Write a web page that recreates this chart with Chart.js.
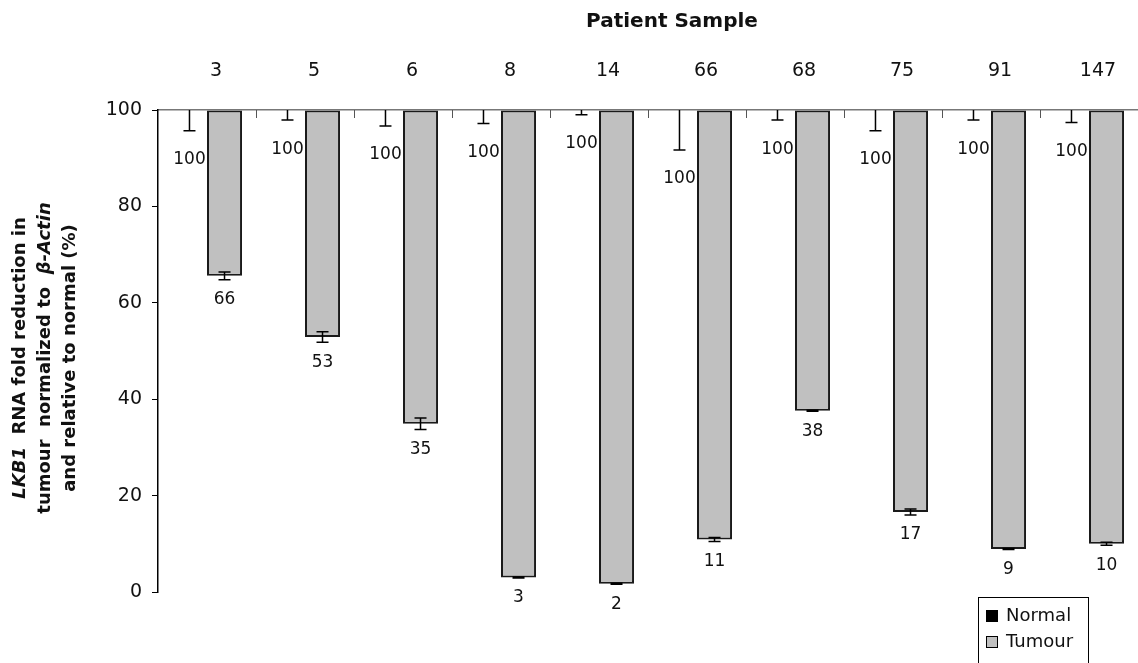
<!DOCTYPE html>
<html>
<head>
<meta charset="utf-8">
<script src="https://cdn.jsdelivr.net/npm/chart.js@4.4.1/dist/chart.umd.min.js"></script>
<style>
html, body { margin: 0; padding: 0; background: #fff; }
#wrap { width: 1138px; height: 663px; }
</style>
</head>
<body>
<div id="wrap"><canvas id="chart"></canvas></div>
<script>
/***** data *****/
var samples = ['3', '5', '6', '8', '14', '66', '68', '75', '91', '147'];
var normal = [100, 100, 100, 100, 100, 100, 100, 100, 100, 100];
var normalErr = [4.3, 2.1, 3.3, 2.8, 1.0, 8.3, 2.1, 4.3, 2.1, 2.6];
var tumour = [65.6, 52.9, 34.9, 3.0, 1.7, 10.9, 37.6, 16.6, 8.9, 10.0];
var tumourErr = [0.8, 1.1, 1.2, 0.1, 0.1, 0.4, 0.1, 0.6, 0.1, 0.3];
var yMin = 0, yMax = 100, yStep = 20;

var FONT = '"DejaVu Sans", Verdana, sans-serif';

// y title, one array of pieces per line (italic pieces are gene names)
var yTitle = [
    [['LKB1', true], ['  RNA fold reduction in', false]],
    [['tumour  normalized to  ', false], ['\u03B2-Actin', true]],
    [['and relative to normal (%)', false]]
];

function drawErrors(chart, dsIndex, errs, both) {
    var ctx = chart.ctx;
    var meta = chart.getDatasetMeta(dsIndex);
    var y = chart.scales.y;
    var vals = chart.data.datasets[dsIndex].data;
    ctx.save();
    ctx.strokeStyle = '#000';
    ctx.lineWidth = 1.5;
    meta.data.forEach(function (bar, i) {
        var x = bar.x;
        var lo = y.getPixelForValue(vals[i] - errs[i]);
        var hi = both ? y.getPixelForValue(vals[i] + errs[i]) : y.getPixelForValue(vals[i]);
        ctx.beginPath();
        ctx.moveTo(x, hi);
        ctx.lineTo(x, lo);
        ctx.moveTo(x - 6, lo);
        ctx.lineTo(x + 6, lo);
        if (both) {
            ctx.moveTo(x - 6, hi);
            ctx.lineTo(x + 6, hi);
        }
        ctx.stroke();
    });
    ctx.restore();
}

function drawLabels(chart, dsIndex, errs, gap) {
    var ctx = chart.ctx;
    var meta = chart.getDatasetMeta(dsIndex);
    var y = chart.scales.y;
    var vals = chart.data.datasets[dsIndex].data;
    ctx.save();
    ctx.fillStyle = '#111';
    ctx.font = '17px ' + FONT;
    ctx.textAlign = 'center';
    ctx.textBaseline = 'middle';
    meta.data.forEach(function (bar, i) {
        var lo = y.getPixelForValue(vals[i] - errs[i]);
        ctx.fillText(String(Math.round(vals[i])), bar.x, lo + gap);
    });
    ctx.restore();
}

var extras = {
    id: 'extras',
    afterDatasetsDraw: function (chart) {
        var ctx = chart.ctx;
        var area = chart.chartArea;
        var x = chart.scales.x;

        // small tick marks between categories, pointing into the plot
        var w = x.getPixelForValue(1) - x.getPixelForValue(0);
        ctx.save();
        ctx.strokeStyle = '#555';
        ctx.lineWidth = 1;
        for (var i = 0; i < samples.length; i++) {
            var px = Math.round(x.getPixelForValue(i) + w / 2) + 0.5;
            ctx.beginPath();
            ctx.moveTo(px, area.top);
            ctx.lineTo(px, area.top + 8);
            ctx.stroke();
        }
        ctx.restore();

        drawErrors(chart, 0, normalErr, false);
        drawErrors(chart, 1, tumourErr, true);
        drawLabels(chart, 0, normalErr, 29);
        drawLabels(chart, 1, tumourErr, 20);
    },
    afterDraw: function (chart) {
        var ctx = chart.ctx;
        var area = chart.chartArea;

        // x title
        ctx.save();
        ctx.fillStyle = '#111';
        ctx.font = 'bold 20px ' + FONT;
        ctx.textAlign = 'center';
        ctx.textBaseline = 'middle';
        ctx.fillText('Patient Sample', (area.left + area.right) / 2 + 24, 22);
        ctx.restore();

        // y title, rotated, three lines
        ctx.save();
        ctx.translate(20, area.top + (area.bottom - area.top) / 2 + 7);
        ctx.rotate(-Math.PI / 2);
        ctx.fillStyle = '#111';
        ctx.textBaseline = 'middle';
        ctx.textAlign = 'left';
        yTitle.forEach(function (line, li) {
            var total = 0;
            line.forEach(function (p) {
                ctx.font = (p[1] ? 'italic ' : '') + 'bold 18px ' + FONT;
                total += ctx.measureText(p[0]).width;
            });
            var cx = -total / 2;
            line.forEach(function (p) {
                ctx.font = (p[1] ? 'italic ' : '') + 'bold 18px ' + FONT;
                ctx.fillText(p[0], cx, li * 25);
                cx += ctx.measureText(p[0]).width;
            });
        });
        ctx.restore();

        // legend with a box round it
        var lx = area.right - 160, ly = area.bottom + 5;
        ctx.save();
        ctx.strokeStyle = '#000';
        ctx.lineWidth = 1;
        ctx.strokeRect(lx + 0.5, ly + 0.5, 110, 80);
        ctx.font = '18px ' + FONT;
        ctx.textBaseline = 'middle';
        ctx.textAlign = 'left';
        chart.data.datasets.forEach(function (ds, i) {
            var cy = ly + 19 + i * 26;
            ctx.fillStyle = ds.backgroundColor;
            ctx.fillRect(lx + 8, cy - 6, 12, 12);
            ctx.strokeStyle = '#000';
            ctx.strokeRect(lx + 8.5, cy - 5.5, 11, 11);
            ctx.fillStyle = '#111';
            ctx.fillText(ds.label, lx + 28, cy);
        });
        ctx.restore();
    }
};

new Chart(document.getElementById('chart'), {
    type: 'bar',
    data: {
        labels: samples,
        datasets: [{
            label: 'Normal',
            data: normal,
            base: 100,
            backgroundColor: '#000000',
            borderWidth: 0,
            categoryPercentage: 0.715,
            barPercentage: 1.0
        }, {
            label: 'Tumour',
            data: tumour,
            base: 100,
            backgroundColor: '#c0c0c0',
            borderColor: '#1a1a1a',
            borderWidth: 2,
            borderSkipped: false,
            categoryPercentage: 0.715,
            barPercentage: 1.0
        }]
    },
    options: {
        responsive: true,
        maintainAspectRatio: false,
        animation: false,
        layout: { padding: { top: 0, right: 0, bottom: 71, left: 0 } },
        plugins: {
            legend: { display: false },
            tooltip: { enabled: false }
        },
        scales: {
            x: {
                position: 'top',
                offset: true,
                afterFit: function (s) { s.height = 110; },
                grid: { drawOnChartArea: false, drawTicks: false },
                border: { display: true, color: '#777', width: 1.5 },
                ticks: {
                    color: '#111',
                    font: { family: FONT, size: 19 },
                    padding: 28,
                    labelOffset: 9,
                    maxRotation: 0
                }
            },
            y: {
                min: yMin,
                max: yMax,
                afterFit: function (s) { s.width = 158; },
                grid: { drawOnChartArea: false, drawTicks: true, tickLength: 6, tickColor: '#000' },
                border: { display: true, color: '#000', width: 1.5 },
                ticks: {
                    stepSize: yStep,
                    color: '#111',
                    font: { family: FONT, size: 19 },
                    padding: 10
                }
            }
        }
    },
    plugins: [extras]
});
</script>
</body>
</html>
